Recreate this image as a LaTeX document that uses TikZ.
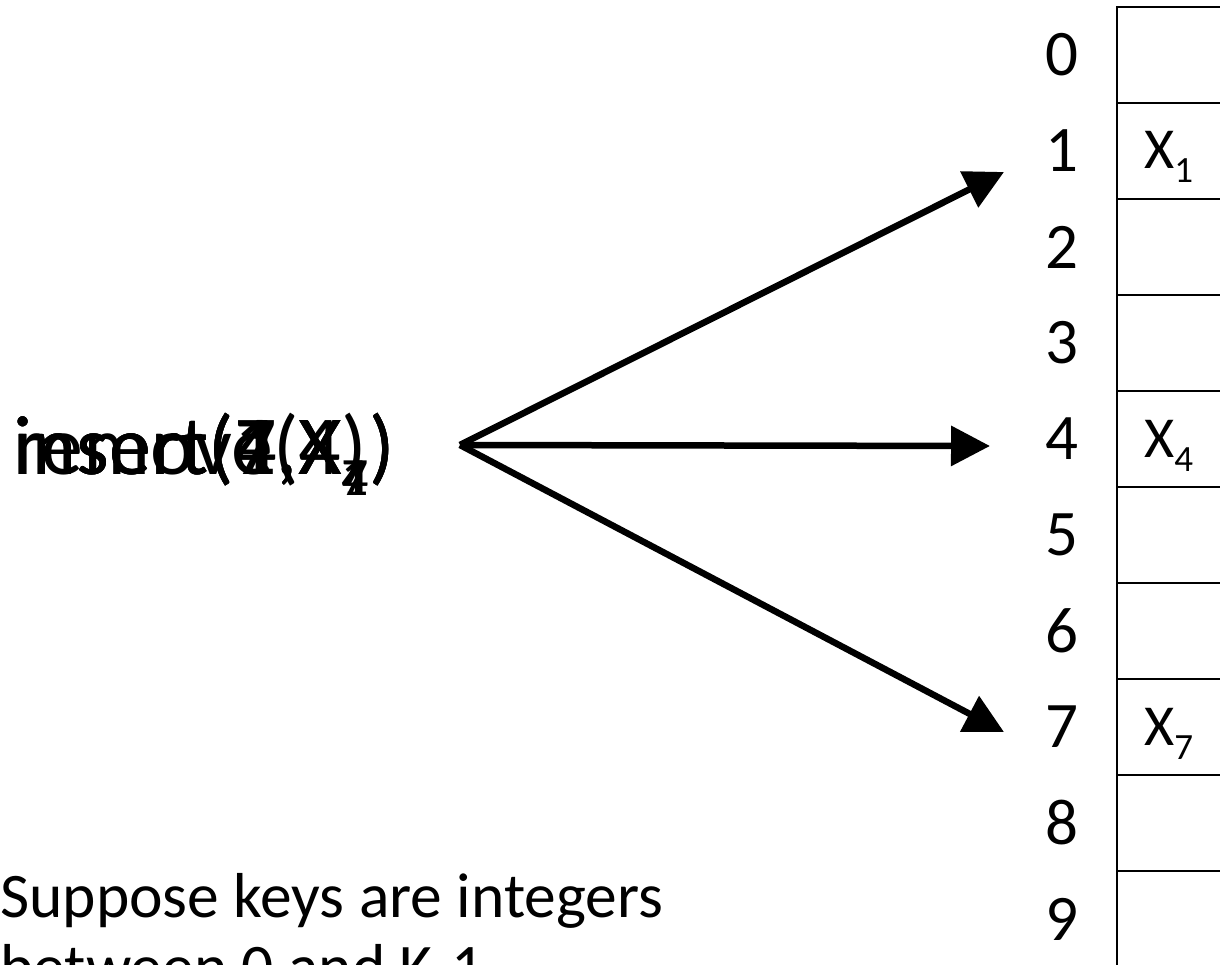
\documentclass[tikz,border=0pt]{standalone}
\usepackage{fontspec}
\setmainfont{Carlito}
\usetikzlibrary{arrows.meta}
\newcommand\insub[1]{\raisebox{-21pt}{\fontsize{54}{54}\selectfont #1}}
\newcommand\cellsub[1]{\raisebox{-14pt}{\fontsize{37}{37}\selectfont #1}}
\begin{document}
\begin{tikzpicture}[x=1pt,y=-1pt,
  cell/.style={draw,line width=2.8pt,minimum width=130pt,minimum height=96pt,inner sep=0pt},
  idx/.style={inner sep=0pt,font=\fontsize{65}{65}\selectfont},
  entry/.style={anchor=base west,inner sep=0pt,font=\fontsize{58}{58}\selectfont},
  op/.style={anchor=base west,inner sep=0pt,font=\fontsize{84}{84}\selectfont},
  note/.style={anchor=base west,inner sep=0pt,font=\fontsize{63.5}{63.5}\selectfont},
  arr/.style={line width=6.5pt,-{Triangle[length=39pt,width=39pt]}}]
\useasboundingbox (0,0) rectangle (1220,965);
\clip (0,0) rectangle (1220,965);
% table
\foreach \i in {0,...,9}{
  \node[cell] (c\i) at (1182,{55+96*\i}) {};
  \node[idx] (d\i) at (1062,{55+96*\i}) {\i};
}
\node[entry] (x1) at (1144,169) {X\cellsub{1}};
\node[entry] (x4) at (1144,457) {X\cellsub{4}};
\node[entry] (x7) at (1144,745) {X\cellsub{7}};
% overlaid operations
\node[op] (op1) at (13,474) {insert(1,X\insub{1})};
\node[op] (op4) at (13,474) {insert(4,X\insub{4})};
\node[op] (op7) at (13,474) {insert(7,X\insub{7})};
\node[op] (rm4) at (13,474) {remove(4)};
% arrows
\coordinate (src) at (460,445);
\coordinate (t1) at (1004,172);
\coordinate (t4) at (990,446);
\coordinate (t7) at (1004,732);
\draw[arr] (src) -- (t1);
\draw[arr] (src) -- (t4);
\draw[arr] (src) -- (t7);
% note
\node[note] (n1) at (0,917) {Suppose keys are integers};
\node[note] (n2) at (0,988) {between 0 and K-1};
\end{tikzpicture}
\end{document}
